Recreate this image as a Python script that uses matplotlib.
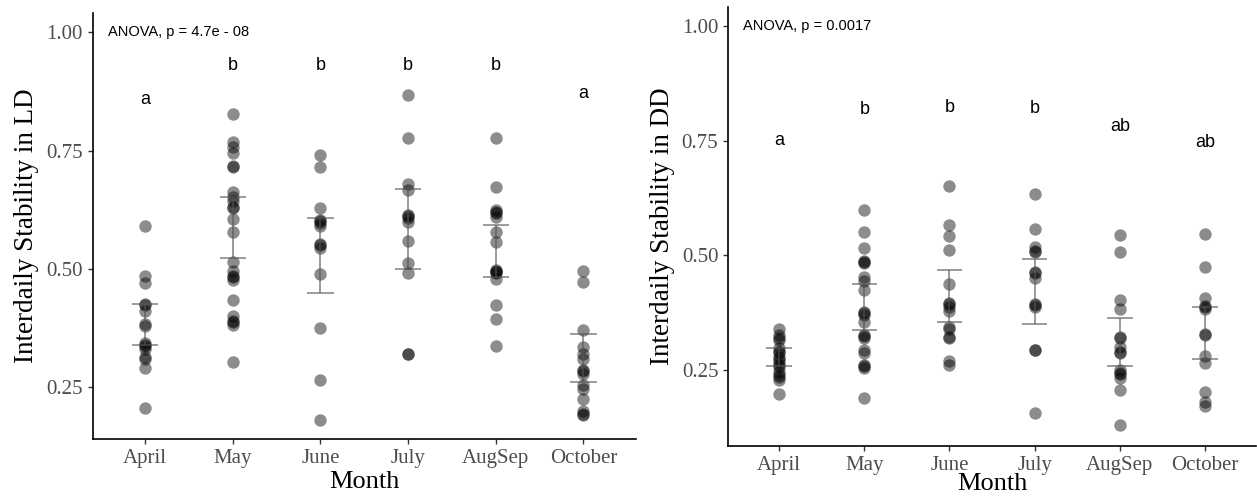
import matplotlib
matplotlib.use("Agg")
import matplotlib.pyplot as plt
import numpy as np

MONTHS = ["April", "May", "June", "July", "AugSep", "October"]

# Interdaily stability under LD
LD_APRIL = [0.592, 0.485, 0.470, 0.427, 0.425, 0.412, 0.383, 0.380, 0.343, 0.340, 0.337, 0.332, 0.314, 0.310, 0.290, 0.206]
LD_MAY = [0.828, 0.768, 0.757, 0.746, 0.717, 0.715, 0.662, 0.653, 0.643, 0.632, 0.630, 0.606, 0.579, 0.515, 0.496, 0.485,
          0.483, 0.477, 0.434, 0.400, 0.390, 0.388, 0.381, 0.304]
LD_JUNE = [0.742, 0.715, 0.630, 0.604, 0.602, 0.597, 0.590, 0.553, 0.550, 0.545, 0.489, 0.376, 0.266, 0.182]
LD_JULY = [0.867, 0.776, 0.679, 0.667, 0.614, 0.612, 0.607, 0.599, 0.559, 0.512, 0.491, 0.321, 0.320]
LD_AUGSEP = [0.777, 0.673, 0.624, 0.620, 0.618, 0.610, 0.578, 0.558, 0.498, 0.496, 0.494, 0.491, 0.480, 0.425, 0.394, 0.337]
LD_OCTOBER = [0.496, 0.472, 0.372, 0.335, 0.321, 0.311, 0.286, 0.284, 0.279, 0.256, 0.246, 0.225, 0.201, 0.194, 0.192]
LD_ERR_LOW = [0.339, 0.523, 0.450, 0.501, 0.484, 0.261]
LD_ERR_HIGH = [0.427, 0.653, 0.609, 0.669, 0.593, 0.362]
LD_LETTERS = ["a", "b", "b", "b", "b", "a"]
LD_LETTER_Y = [0.859, 0.931, 0.931, 0.931, 0.931, 0.872]
LD_ANOVA = "ANOVA, p = 4.7e - 08"

# Interdaily stability under DD
DD_APRIL = [0.339, 0.326, 0.320, 0.315, 0.297, 0.290, 0.289, 0.279, 0.275, 0.268, 0.260, 0.257, 0.246, 0.240, 0.235, 0.228, 0.198]
DD_MAY = [0.599, 0.551, 0.517, 0.488, 0.485, 0.483, 0.452, 0.443, 0.424, 0.377, 0.375, 0.370, 0.355, 0.326, 0.324, 0.319,
          0.294, 0.286, 0.261, 0.259, 0.254, 0.190]
DD_JUNE = [0.651, 0.566, 0.542, 0.512, 0.437, 0.395, 0.393, 0.388, 0.379, 0.343, 0.340, 0.321, 0.319, 0.270, 0.261]
DD_JULY = [0.634, 0.557, 0.519, 0.510, 0.508, 0.464, 0.462, 0.450, 0.394, 0.392, 0.387, 0.294, 0.293, 0.156]
DD_AUGSEP = [0.544, 0.507, 0.403, 0.384, 0.321, 0.319, 0.301, 0.289, 0.287, 0.250, 0.243, 0.241, 0.232, 0.206, 0.130]
DD_OCTOBER = [0.546, 0.475, 0.406, 0.390, 0.388, 0.384, 0.328, 0.326, 0.281, 0.266, 0.203, 0.181, 0.171]
DD_ERR_LOW = [0.259, 0.337, 0.355, 0.350, 0.259, 0.275]
DD_ERR_HIGH = [0.297, 0.437, 0.467, 0.492, 0.363, 0.388]
DD_LETTERS = ["a", "b", "b", "b", "ab", "ab"]
DD_LETTER_Y = [0.750, 0.818, 0.823, 0.821, 0.780, 0.745]
DD_ANOVA = "ANOVA, p = 0.0017"

Y_TICKS = [0.25, 0.50, 0.75, 1.00]

SERIF = ["Liberation Serif", "DejaVu Serif"]
SANS = ["Liberation Sans", "DejaVu Sans"]


def draw_panel(ax, groups, err_low, err_high, letters, letter_y, anova, ylabel, ylim, xlabel_pad):
    for i, vals in enumerate(groups):
        ax.scatter(np.full(len(vals), i), vals, s=80, color="black", alpha=0.45,
                   linewidths=0, zorder=2)
    xs = np.arange(len(groups))
    ax.vlines(xs, err_low, err_high, color="#555555", alpha=0.75, linewidth=1.1, zorder=3)
    ax.hlines(err_low, xs - 0.15, xs + 0.15, color="#555555", alpha=0.75, linewidth=1.1, zorder=3)
    ax.hlines(err_high, xs - 0.15, xs + 0.15, color="#555555", alpha=0.75, linewidth=1.1, zorder=3)
    for i, (lab, y) in enumerate(zip(letters, letter_y)):
        ax.text(i, y, lab, ha="center", va="center", fontsize=13, family=SANS, color="black")
    ax.text(-0.42, 1.0, anova, ha="left", va="center", fontsize=10.5, family=SANS, color="black")

    ax.set_xlim(-0.6, len(groups) - 0.4)
    ax.set_ylim(*ylim)
    ax.set_xticks(xs)
    ax.set_xticklabels(MONTHS, family=SERIF, fontsize=15, color="#4D4D4D")
    ax.set_yticks(Y_TICKS)
    ax.set_yticklabels([f"{t:.2f}" for t in Y_TICKS], family=SERIF, fontsize=15, color="#4D4D4D")
    ax.set_xlabel("Month", family=SERIF, fontsize=19, labelpad=xlabel_pad)
    ax.set_ylabel(ylabel, family=SERIF, fontsize=19.5, labelpad=5)
    for side in ("top", "right"):
        ax.spines[side].set_visible(False)
    for side in ("left", "bottom"):
        ax.spines[side].set_linewidth(1.2)
        ax.spines[side].set_color("black")
    ax.tick_params(axis="both", length=3.5, width=1.0, color="#333333", pad=3.5)


fig = plt.figure(figsize=(12.57, 4.99), dpi=100)
ax_ld = fig.add_axes([0.0736, 0.1202, 0.4324, 0.8537])
ax_dd = fig.add_axes([0.5792, 0.1062, 0.4200, 0.8798])

draw_panel(ax_ld, [LD_APRIL, LD_MAY, LD_JUNE, LD_JULY, LD_AUGSEP, LD_OCTOBER],
           LD_ERR_LOW, LD_ERR_HIGH, LD_LETTERS, LD_LETTER_Y, LD_ANOVA,
           "Interdaily Stability in LD", (0.141, 1.041), 2)
draw_panel(ax_dd, [DD_APRIL, DD_MAY, DD_JUNE, DD_JULY, DD_AUGSEP, DD_OCTOBER],
           DD_ERR_LOW, DD_ERR_HIGH, DD_LETTERS, DD_LETTER_Y, DD_ANOVA,
           "Interdaily Stability in DD", (0.0843, 1.0414), -1)

fig.savefig("out.png", dpi=100)
